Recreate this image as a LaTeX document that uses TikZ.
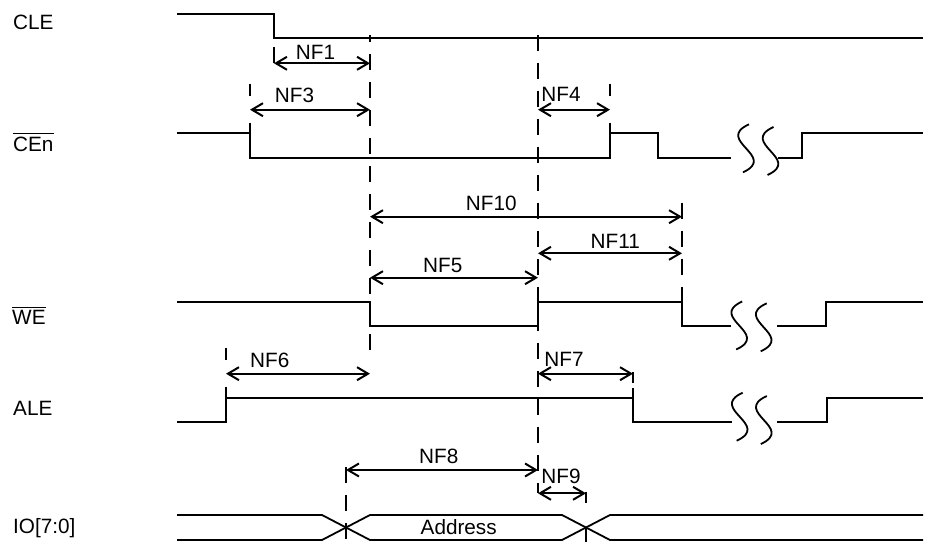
\documentclass[tikz,border=0pt]{standalone}
\usepackage{fontspec}
\setmainfont{Liberation Sans}
\usetikzlibrary{arrows.meta}
\begin{document}
\begin{tikzpicture}[x=1bp,y=-1bp,
  sig/.style={line width=2.2bp, line join=miter, line cap=butt},
  bus/.style={line width=1.8bp, line join=miter},
  guide/.style={line width=2.2bp, dash pattern=on 16bp off 12bp},
  tick/.style={line width=2.2bp, dash pattern=on 12bp off 27bp on 20bp off 20bp},
  dim/.style={line width=2bp, {Straight Barb[length=11bp,width=13bp]}-{Straight Barb[length=11bp,width=13bp]}},
  lbl/.style={inner sep=0pt, font=\fontsize{20.8}{24}\selectfont},
  signame/.style={lbl, anchor=base west},
  ovl/.style={line width=1bp},
  sq/.style={line width=1.8bp},
  squig/.pic={\draw[sq] (3,-24) .. controls (-32,-8) and (32,8) .. (-3,24);},
]
\useasboundingbox (0,0) rectangle (927,542);

% signal names
\node[signame] (cle) at (13,30) {CLE};
\node[signame] (cen) at (13,151.7) {CEn};
\draw[ovl] ([yshift=3.5bp]cen.north west) -- ([yshift=3.5bp]cen.north east);
\node[signame] (we) at (12,325) {WE};
\draw[ovl] ([yshift=3.5bp]we.north west) -- ([yshift=3.5bp]we.north east);
\node[signame] (ale) at (13,415) {ALE};
\node[signame] (io) at (13,533.3) {IO[7:0]};

% guides (dashed)
\draw[guide] (274,63.3) -- (274,37.7);
\draw[tick] (250,84) -- (250,133.3);
\draw[guide] (370,350) -- (370,35);
\draw[guide] (538,35) -- (538,493.3);
\draw[tick] (610,84) -- (610,133.3);
\draw[guide] (682,203) -- (682,325.7);
\draw[tick] (226,348) -- (226,397.7);
\draw[guide, dash pattern=on 11bp off 5bp on 20bp] (633,372) -- (633,397.7);
\draw[guide] (346,467) -- (346,542);
\draw[guide, dash pattern=on 11.3bp off 23.7bp on 20bp] (586,491.7) -- (586,542);

% waveforms
\draw[sig] (177,14) -- (274,14) -- (274,37.7) -- (923,37.7);

\draw[sig] (177,133.3) -- (250,133.3) -- (250,157.7) -- (610,157.7) -- (610,133.3)
  -- (658,133.3) -- (658,157.7) -- (731,157.7);
\draw[sig] (778,157.7) -- (802,157.7) -- (802,133.3) -- (923,133.3);
\pic at (746,148.3) {squig};
\pic at (770.5,151) {squig};

\draw[sig] (177,301.7) -- (370,301.7) -- (370,325.7) -- (538,325.7) -- (538,301.7)
  -- (682,301.7) -- (682,325.7) -- (731,325.7);
\draw[sig] (777,325.7) -- (826,325.7) -- (826,301.7) -- (923,301.7);
\pic at (739.2,325.5) {squig};
\pic at (763.7,327.3) {squig};

\draw[sig] (177,421.7) -- (226,421.7) -- (226,397.7) -- (633,397.7) -- (633,421.7) -- (732,421.7);
\draw[sig] (777,421.7) -- (827,421.7) -- (827,397.7) -- (923,397.7);
\pic at (739.7,416.7) {squig};
\pic at (763.8,420) {squig};

\draw[bus] (177,515) -- (322,515) -- (370,540) -- (562,540) -- (610,515) -- (923,515);
\draw[bus] (177,540) -- (322,540) -- (370,515) -- (562,515) -- (610,540) -- (923,540);
\node[lbl] (addr) at (458.7,527.5) {Address};

% timing arrows
\coordinate (nf1l) at (274,63.3);  \coordinate (nf1r) at (370,63.3);
\coordinate (nf3l) at (250,109.7); \coordinate (nf3r) at (370,109.7);
\coordinate (nf4l) at (538,109.7); \coordinate (nf4r) at (610,109.7);
\coordinate (nf10l) at (370,216.7); \coordinate (nf10r) at (682,216.7);
\coordinate (nf11l) at (538,253.3); \coordinate (nf11r) at (682,253.3);
\coordinate (nf5l) at (370,277.7); \coordinate (nf5r) at (538,277.7);
\coordinate (nf6l) at (226,373.7); \coordinate (nf6r) at (370,373.7);
\coordinate (nf7l) at (538,373.7); \coordinate (nf7r) at (633,373.7);
\coordinate (nf8l) at (346,470); \coordinate (nf8r) at (538,470);
\coordinate (nf9l) at (538,493.3); \coordinate (nf9r) at (586,493.3);

\draw[dim] (nf1l) -- (nf1r);
\draw[dim] (nf3l) -- (nf3r);
\draw[dim] (nf4l) -- (nf4r);
\draw[dim] (nf10l) -- (nf10r);
\draw[dim] (nf11l) -- (nf11r);
\draw[dim] (nf5l) -- (nf5r);
\draw[dim] (nf6l) -- (nf6r);
\draw[dim] (nf7l) -- (nf7r);
\draw[dim] (nf8l) -- (nf8r);
\draw[dim] (nf9l) -- (nf9r);

% labels
\node[lbl] (l1) at (315.5,52.2) {NF1};
\node[lbl] (l3) at (294.5,95.8) {NF3};
\node[lbl] (l4) at (561,94.5) {NF4};
\node[lbl] (l10) at (491.3,203.8) {NF10};
\node[lbl] (l11) at (615.3,241.7) {NF11};
\node[lbl] (l5) at (442.7,265.8) {NF5};
\node[lbl] (l6) at (269.7,360) {NF6};
\node[lbl] (l7) at (564,359) {NF7};
\node[lbl] (l8) at (438.8,456.7) {NF8};
\node[lbl] (l9) at (561,476.7) {NF9};
\end{tikzpicture}
\end{document}
